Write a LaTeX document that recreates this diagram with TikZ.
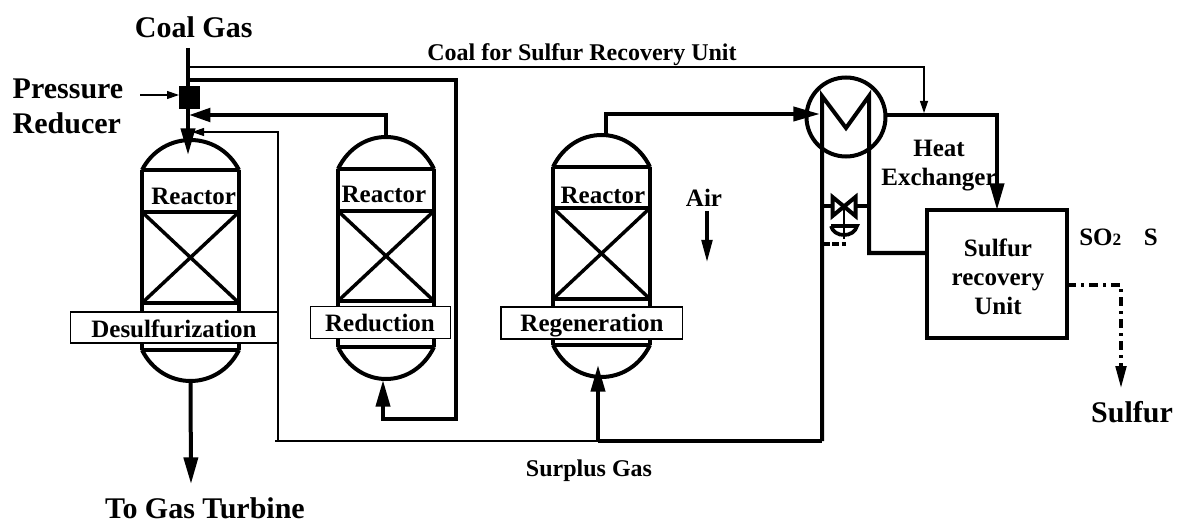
\documentclass[tikz,border=0pt]{standalone}
\usepackage{fontspec}
\setmainfont{Liberation Serif}
\usetikzlibrary{arrows.meta}
\tikzset{
  x=0.75pt,y=-0.75pt,
  pipe/.style={line width=3pt,line join=miter},
  mid/.style={line width=2.3pt},
  thinln/.style={line width=0.9pt},
  vwall/.style={line width=3pt,line cap=butt},
  vcross/.style={line width=2.6pt},
  bigtip/.style={-{Triangle[length=20pt,width=10.5pt]}},
  medtip/.style={-{Triangle[length=16pt,width=10pt]}},
  airtip/.style={-{Triangle[length=16.5pt,width=8pt]}},
  smalltip/.style={-{Triangle[length=9pt,width=6pt]}},
  big/.style={font=\bfseries\fontsize{22.5pt}{26pt}\selectfont,inner sep=0pt,anchor=base},
  norm/.style={font=\bfseries\fontsize{18.75pt}{21.4pt}\selectfont,inner sep=0pt,anchor=base},
  small/.style={font=\bfseries\fontsize{18pt}{20pt}\selectfont,inner sep=0pt,anchor=base},
  tag/.style={draw,line width=0.9pt,fill=white,inner sep=0pt,outer sep=0pt,anchor=north west},
}
% #1 name, #2 xl, #3 xr, #4 apex y, #5 dome base, #6 y2, #7 y3, #8 y4, #9 bottom apex
\newcommand{\vesseldraw}[9]{%
  \coordinate (#1top) at ({(#2+#3)/2},#4);
  \coordinate (#1bot) at ({(#2+#3)/2},#9);
  \draw[vwall] (#2,#5) .. controls (#2+20.7,{#5-(#5-#4)/0.75}) and (#3-20.7,{#5-(#5-#4)/0.75}) .. (#3,#5);
  \draw[vwall] (#2,#8) .. controls (#2+20.7,{#8+(#9-#8)/0.75}) and (#3-20.7,{#8+(#9-#8)/0.75}) .. (#3,#8);
  \draw[vwall] (#2,#5) -- (#2,#8) (#3,#5) -- (#3,#8);
  \draw[vwall] (#2,#5) -- (#3,#5) (#2,#6) -- (#3,#6) (#2,#7) -- (#3,#7) (#2,#8) -- (#3,#8);
  \draw[vcross] (#2,#6) -- (#3,#7) (#3,#6) -- (#2,#7);
}
\begin{document}
\begin{tikzpicture}
\useasboundingbox (0,0) rectangle (1182,524);
% vessels
\vesseldraw{a}{142}{239}{140}{170}{212}{303}{350}{381}
\vesseldraw{b}{338}{434}{137}{169}{211}{301}{347}{379}
\vesseldraw{c}{553}{650}{135}{167}{208}{299}{345}{377}
% coordinates
\coordinate (gasin) at (188,48);
\coordinate (thinstart) at (188,67);
\coordinate (thickstart) at (188,80);
\coordinate (atip) at (188,155);
\coordinate (ajoin) at (189,115);
\coordinate (thinjoin) at (192,132);
\coordinate (turbine) at (191,484);
\coordinate (cout) at (606,135);
\coordinate (heatin) at (820,114);
\coordinate (surplus) at (598,441);
\coordinate (ctip) at (598,365);
\coordinate (btip) at (383,380);
\coordinate (prin) at (140,95);
\coordinate (airtop) at (707,211);
\coordinate (airendp) at (707,262);
\coordinate (coaltip) at (924,113);
\coordinate (heatout) at (886,115);
\coordinate (sulftip) at (1121,388);
% pressure reducer
\node[fill=black,minimum width=15.75pt,minimum height=17.25pt,inner sep=0pt,outer sep=0pt] (pr) at (189.5,98) {};
% main gas line
\draw[pipe] (gasin) -- (pr.north -| gasin);
\draw[pipe] (pr.south -| gasin) -- (188,135);
\draw[bigtip,line width=3pt] (188,128) -- (atip);
% thin coal line
\draw[thinln,smalltip] (thinstart) -- (coaltip |- thinstart) -- (coaltip);
% thick loop to reduction reactor
\draw[pipe,bigtip] (thickstart) -- (456,80) -- (456,419) -- (383,419) -- (btip);
% reduction outlet
\draw[pipe,medtip] (btop) -- (btop |- ajoin) -- (ajoin);
% surplus thin line
\draw[thinln] (surplus) -- (275,441);
\draw[thinln,smalltip] (278,441) -- (278,132) -- (thinjoin);
\draw[pipe,bigtip] (surplus) -- (ctip);
% turbine
\draw[pipe,bigtip] (abot) -- (turbine);
% regen outlet
\draw[pipe,bigtip] (cout) -- (606,114) -- (heatin);
% pressure arrow
\draw[thinln,smalltip] (prin) -- (pr.west |- prin);
% air
\draw[mid,airtip] (airtop) -- (airendp);
% heat exchanger
\node[draw,circle,line width=3pt,minimum size=59.25pt,inner sep=0pt,outer sep=0pt] (hx) at (846,117) {};
\coordinate (hxl) at (822,96);
\coordinate (hxm) at (846,128);
\coordinate (hxr) at (869,96);
\node[draw,line width=3pt,minimum width=105pt,minimum height=96pt,inner sep=0pt,outer sep=0pt,anchor=north west] (sru) at (927,210) {};
\draw[line width=3pt,miter limit=10] (822,441) -- (hxl) -- (hxm) -- (hxr) -- (869,253) -- (sru.west |- 869,253);
\draw[pipe] (surplus) -- (822,441);
\draw[pipe,bigtip] (hx.east |- heatout) -- (997,115) -- (sru.north -| 997,0);
% valve
\coordinate (vl) at (822,206);
\coordinate (vr) at (869,206);
\draw[line width=3pt] (vl) -- (833,206) (857,206) -- (vr);
\draw[line width=3pt,miter limit=3] (832.5,197) -- (832.5,216) -- (855.5,197) -- (855.5,216) -- cycle;
\draw[line width=2.2pt] (844,206) -- (844,239);
\draw[line width=2.8pt] (831,226) -- (857,226) .. controls (854,238) and (834,238) .. (831,226);
\draw[line width=2.8pt,dash pattern=on 5pt off 2pt] (823,244) -- (846,244);
% sulfur output
\coordinate (sout) at (1121,285);
\draw[mid,dash pattern=on 7pt off 3.5pt on 2.5pt off 3.5pt,airtip] (sru.east |- sout) -- (sout) -- (sulftip);
% tags
\node[tag,minimum width=155.25pt,minimum height=23.25pt] (ta) at (70.5,312) {};
\node[norm] (ttext) at (174,337.5) {Desulfurization};
\node[tag,minimum width=105pt,minimum height=24pt] (tb) at (310.5,306.5) {};
\node[norm] (tbtext) at (380,331) {Reduction};
\node[tag,minimum width=136pt,minimum height=24pt] (tc) at (501,307) {};
\node[norm] (tctext) at (592,331.5) {Regeneration};
% labels
\node[big] (coal) at (193.7,37.5) {Coal Gas};
\node[small] (cfs) at (582,60.5) {Coal for Sulfur Recovery Unit};
\node[big,align=left] (press) at (68,133.5) {Pressure\\Reducer};
\node[norm] (ra) at (193.7,204.5) {Reactor};
\node[norm] (rb) at (384,202.5) {Reactor};
\node[norm] (rc) at (603,203.5) {Reactor};
\node[norm] (air) at (704,207) {Air};
\node[norm,align=center] (hxlab) at (939,185.5) {Heat\\Exchanger};
\node[norm,align=center] (srl) at (998,314) {Sulfur\\recovery\\Unit};
\node[norm,anchor=base west] (so) at (1079,245) {SO{\fontsize{13pt}{13pt}\selectfont 2}};
\node[norm] (ss) at (1150.7,245) {S};
\node[big] (sulf) at (1132,422.5) {Sulfur};
\node[big] (tgt) at (205,518) {To Gas Turbine};
\node[small] (sg) at (589,476.5) {Surplus Gas};
\end{tikzpicture}
\end{document}
